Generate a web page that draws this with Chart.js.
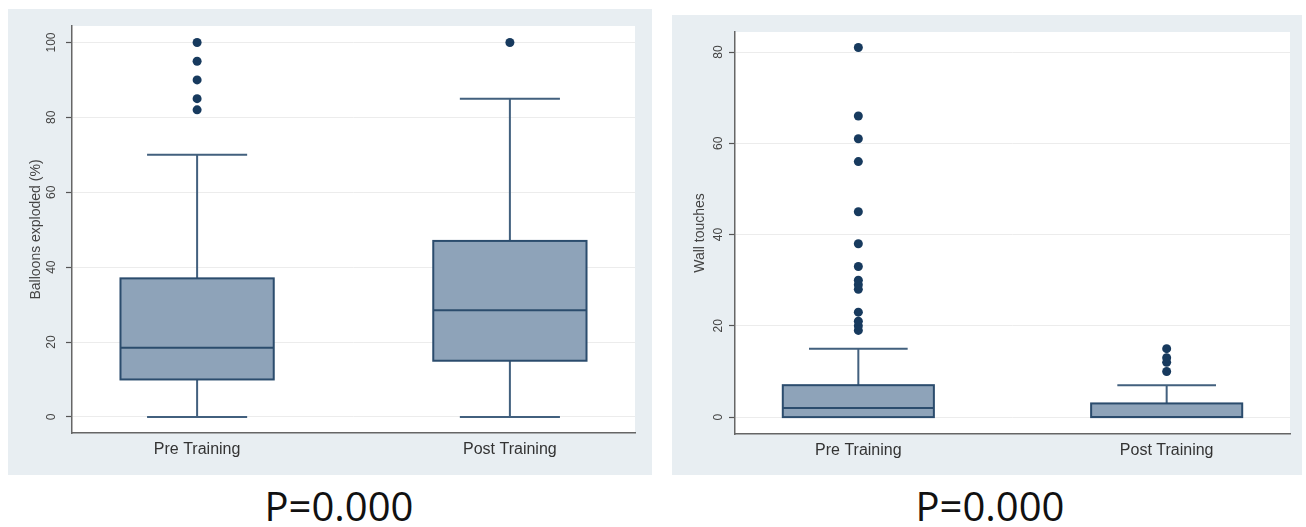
<!DOCTYPE html>
<html lang="en">
<head>
    <meta charset="UTF-8">
    <title>Balloons exploded and wall touches, pre vs post training</title>
    <script src="https://cdn.jsdelivr.net/npm/chart.js"></script>
    <style>
        body {
            margin: 0;
            width: 1306px;
            height: 527px;
            position: relative;
            overflow: hidden;
            background: #ffffff;
            font-family: "Liberation Sans", Arial, sans-serif;
        }
        .panel {
            position: absolute;
            background: #e8eef2;
        }
        #panel-left { left: 8px; top: 9px; width: 644px; height: 466px; }
        #panel-right { left: 672px; top: 15px; width: 630px; height: 460px; }
        .pvalue {
            position: absolute;
            top: 484px;
            width: 300px;
            text-align: center;
            font-family: "Open Sans", sans-serif;
            font-size: 40px;
            line-height: 44px;
            color: #111;
        }
    </style>
</head>
<body>
    <div class="panel" id="panel-left"><canvas id="balloons-chart"></canvas></div>
    <div class="panel" id="panel-right"><canvas id="wall-chart"></canvas></div>
    <div class="pvalue" style="left:189px">P=0.000</div>
    <div class="pvalue" style="left:840px">P=0.000</div>

    <script>
        const groups = ['Pre Training', 'Post Training'];

        // Balloons exploded (%)
        const balloonMin = [0, 0];
        const balloonQ1 = [10, 15];
        const balloonMedian = [18.5, 28.5];
        const balloonQ3 = [37, 47];
        const balloonMax = [70, 85];
        const balloonOutliersPre = [82, 85, 90, 95, 100];
        const balloonOutliersPost = [100];
        const balloonTicks = [0, 20, 40, 60, 80, 100];

        // Wall touches
        const wallMin = [0, 0];
        const wallQ1 = [0, 0];
        const wallMedian = [2, 0];
        const wallQ3 = [7, 3];
        const wallMax = [15, 7];
        const wallOutliersPre = [19, 20, 21, 23, 28, 29, 30, 33, 38, 45, 56, 61, 66, 81];
        const wallOutliersPost = [10, 12, 13, 15];
        const wallTicks = [0, 20, 40, 60, 80];

        const BOX_HALF = 0.245;
        const CAP_HALF = 0.16;

        // white plot region
        const plotBackground = {
            id: 'plotBackground',
            beforeDraw(chart) {
                const { ctx, chartArea: a } = chart;
                ctx.save();
                ctx.fillStyle = '#ffffff';
                ctx.fillRect(a.left, a.top, a.right - a.left, a.bottom - a.top);
                ctx.restore();
            }
        };

        // boxes and whiskers drawn through the chart scales
        const boxPlot = {
            id: 'boxPlot',
            beforeDatasetsDraw(chart, args, opts) {
                const { ctx } = chart;
                const x = chart.scales.x, y = chart.scales.y;
                const s = opts.stats;
                ctx.save();
                ctx.lineWidth = 2;
                groups.forEach((g, i) => {
                    const pos = i + 1;
                    const xc = x.getPixelForValue(pos);
                    const xl = x.getPixelForValue(pos - BOX_HALF);
                    const xr = x.getPixelForValue(pos + BOX_HALF);
                    const cl = x.getPixelForValue(pos - CAP_HALF);
                    const cr = x.getPixelForValue(pos + CAP_HALF);
                    const yMin = y.getPixelForValue(s.min[i]);
                    const yQ1 = y.getPixelForValue(s.q1[i]);
                    const yMed = y.getPixelForValue(s.median[i]);
                    const yQ3 = y.getPixelForValue(s.q3[i]);
                    const yMax = y.getPixelForValue(s.max[i]);

                    ctx.strokeStyle = '#42607e';
                    ctx.beginPath();
                    ctx.moveTo(xc, yQ3); ctx.lineTo(xc, yMax);
                    ctx.moveTo(cl, yMax); ctx.lineTo(cr, yMax);
                    ctx.moveTo(xc, yQ1); ctx.lineTo(xc, yMin);
                    ctx.moveTo(cl, yMin); ctx.lineTo(cr, yMin);
                    ctx.stroke();

                    ctx.fillStyle = '#8ea3b9';
                    ctx.strokeStyle = '#2b4c6d';
                    ctx.fillRect(xl, yQ3, xr - xl, yQ1 - yQ3);
                    ctx.strokeRect(xl, yQ3, xr - xl, yQ1 - yQ3);
                    ctx.beginPath();
                    ctx.moveTo(xl, yMed); ctx.lineTo(xr, yMed);
                    ctx.stroke();
                });
                ctx.restore();
            }
        };

        function makeChart(canvasId, o) {
            return new Chart(document.getElementById(canvasId), {
                type: 'scatter',
                data: {
                    datasets: [
                        { data: o.outPre.map(v => ({ x: 1, y: v })) },
                        { data: o.outPost.map(v => ({ x: 2, y: v })) }
                    ]
                },
                options: {
                    responsive: true,
                    maintainAspectRatio: false,
                    animation: false,
                    layout: { padding: { top: o.padTop, right: o.padRight, left: 0, bottom: 0 } },
                    elements: {
                        point: { radius: 4.5, backgroundColor: '#173a5e', borderColor: '#173a5e', borderWidth: 0 }
                    },
                    plugins: {
                        legend: { display: false },
                        tooltip: { enabled: false },
                        boxPlot: { stats: o.stats }
                    },
                    scales: {
                        x: {
                            type: 'linear',
                            min: 0.6,
                            max: 2.4,
                            afterBuildTicks: sc => { sc.ticks = groups.map((g, i) => ({ value: i + 1 })); },
                            afterFit: sc => { sc.height = o.xHeight; },
                            ticks: {
                                callback: v => groups[v - 1],
                                color: '#333',
                                font: { family: 'Liberation Sans', size: 16 },
                                padding: 7,
                                maxRotation: 0,
                                autoSkip: false
                            },
                            grid: { display: false, drawTicks: false },
                            border: { display: true, color: '#666', width: 1.5 }
                        },
                        y: {
                            min: o.yMin,
                            max: o.yMax,
                            afterBuildTicks: sc => { sc.ticks = o.ticks.map(v => ({ value: v })); },
                            afterFit: sc => { sc.width = o.yWidth; },
                            ticks: {
                                color: '#444',
                                font: { family: 'Liberation Sans', size: 12 },
                                minRotation: 90,
                                maxRotation: 90,
                                crossAlign: 'center',
                                padding: 4
                            },
                            grid: {
                                color: '#ececec',
                                lineWidth: 1,
                                tickLength: 6,
                                tickColor: '#555',
                                tickWidth: 1.2
                            },
                            border: { display: true, color: '#666', width: 1.5 },
                            title: {
                                display: true,
                                text: o.title,
                                color: '#444',
                                font: { family: 'Liberation Sans', size: 14 },
                                padding: { top: 20, bottom: 0 }
                            }
                        }
                    }
                },
                plugins: [plotBackground, boxPlot]
            });
        }

        makeChart('balloons-chart', {
            title: 'Balloons exploded (%)',
            yMin: -4.3, yMax: 104.4, ticks: balloonTicks,
            padTop: 17, padRight: 17, yWidth: 64, xHeight: 42,
            outPre: balloonOutliersPre, outPost: balloonOutliersPost,
            stats: { min: balloonMin, q1: balloonQ1, median: balloonMedian, q3: balloonQ3, max: balloonMax }
        });

        makeChart('wall-chart', {
            title: 'Wall touches',
            yMin: -3.7, yMax: 84.4, ticks: wallTicks,
            padTop: 17, padRight: 12, yWidth: 63, xHeight: 41,
            outPre: wallOutliersPre, outPost: wallOutliersPost,
            stats: { min: wallMin, q1: wallQ1, median: wallMedian, q3: wallQ3, max: wallMax }
        });
    </script>
</body>
</html>
